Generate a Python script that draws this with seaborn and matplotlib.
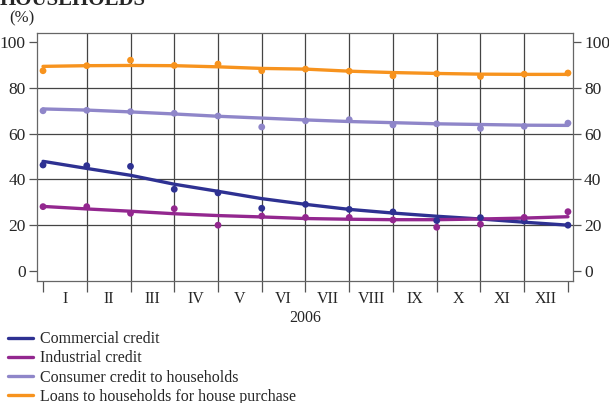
import numpy as np
import pandas as pd
import seaborn as sns
import matplotlib.pyplot as plt
from matplotlib.ticker import FixedLocator, NullFormatter, FixedFormatter

months = ["I", "II", "III", "IV", "V", "VI", "VII", "VIII", "IX", "X", "XI", "XII"]
obs = list(range(13))  # month boundaries, end-of-month observations

commercial = [46.3, 46.0, 45.7, 35.7, 34.1, 27.4, 29.1, 26.9, 25.8, 22.0, 23.3, 21.8, 20.0]
commercial_trend = [47.9, 44.8, 41.8, 37.9, 34.8, 31.6, 29.1, 26.9, 25.3, 23.9, 22.7, 21.3, 20.0]

industrial = [28.1, 28.1, 25.2, 27.2, 20.0, 24.0, 23.4, 23.4, 22.3, 19.1, 20.4, 23.4, 25.9]
industrial_trend = [28.2, 27.1, 26.1, 25.0, 24.2, 23.6, 22.9, 22.6, 22.4, 22.4, 22.7, 23.1, 23.7]

consumer = [70.0, 70.2, 69.6, 68.9, 67.7, 62.9, 65.6, 66.1, 63.8, 64.3, 62.3, 63.2, 64.6]
consumer_trend = [70.8, 70.3, 69.5, 68.6, 67.6, 66.8, 66.0, 65.3, 64.8, 64.3, 64.0, 63.7, 63.6]

house = [87.5, 89.7, 92.1, 89.8, 90.4, 87.5, 88.2, 87.3, 85.3, 86.2, 85.0, 86.0, 86.5]
house_trend = [89.4, 89.7, 89.8, 89.7, 89.2, 88.5, 88.2, 87.3, 86.7, 86.3, 86.0, 85.9, 85.9]

names = ["Commercial credit", "Industrial credit",
         "Consumer credit to households", "Loans to households for house purchase"]
colors = ["#2e3192", "#93278f", "#8f86c9", "#f7931e"]

dots = pd.DataFrame({"x": obs * 4,
                     "value": commercial + industrial + consumer + house,
                     "series": np.repeat(names, 13)})
trend = pd.DataFrame({"x": obs * 4,
                      "value": commercial_trend + industrial_trend + consumer_trend + house_trend,
                      "series": np.repeat(names, 13)})

sns.set_theme(style="white")
plt.rcParams['font.family'] = ['Liberation Serif', 'DejaVu Serif']
plt.rcParams['font.size'] = 11.5

fig = plt.figure(figsize=(6.09, 4.03), dpi=100)
ax = fig.add_axes([0.0608, 0.3027, 0.880, 0.6155])
pal = dict(zip(names, colors))

sns.lineplot(data=trend, x="x", y="value", hue="series", palette=pal, lw=2.4,
             ax=ax, legend=False, zorder=3)
sns.scatterplot(data=dots, x="x", y="value", hue="series", palette=pal, s=24,
                edgecolor="none", ax=ax, legend=False, zorder=4)

ax.set_xlim(-0.137, 12.114)
ax.set_ylim(-4.4, 104)
ax.set_xlabel("2006", fontsize=11.5, labelpad=2)
ax.set_ylabel("")

# x: ticks at month boundaries, labels centred in months
ax.xaxis.set_major_locator(FixedLocator(obs))
ax.xaxis.set_major_formatter(NullFormatter())
ax.xaxis.set_minor_locator(FixedLocator([i + 0.5 for i in range(12)]))
ax.xaxis.set_minor_formatter(FixedFormatter(months))
ax.tick_params(axis="x", which="major", direction="out", length=8, width=0.9,
               color="#555555", bottom=True)
ax.tick_params(axis="x", which="minor", length=0, pad=7, labelsize=11.5, bottom=True)

ax.set_yticks([0, 20, 40, 60, 80, 100])
ax.tick_params(axis="y", direction="out", length=6, width=0.9, color="#555555",
               left=True, right=True, labelleft=True, labelright=True, labelsize=12.5, pad=2)

for v in [20, 40, 60, 80]:
    ax.axhline(v, color="#444444", lw=0.9, zorder=1)
for v in range(1, 12):
    ax.axvline(v, color="#444444", lw=0.9, zorder=1)

for s in ax.spines.values():
    s.set_color("#666666")
    s.set_linewidth(0.9)

fig.text(0.015, 0.945, "(%)", fontsize=12)
fig.text(0.0, 1.0, "HOUSEHOLDS", fontsize=15, fontweight="bold", va="center")

handles = [plt.Line2D([], [], color=c, lw=2.4) for c in colors]
fig.legend(handles, names, loc="upper left", bbox_to_anchor=(0.013, 0.178),
           frameon=False, fontsize=11.5, handlelength=1.55, handletextpad=0.45,
           labelspacing=0.2, borderaxespad=0, borderpad=0.0)

plt.savefig("out.png", dpi=100)
